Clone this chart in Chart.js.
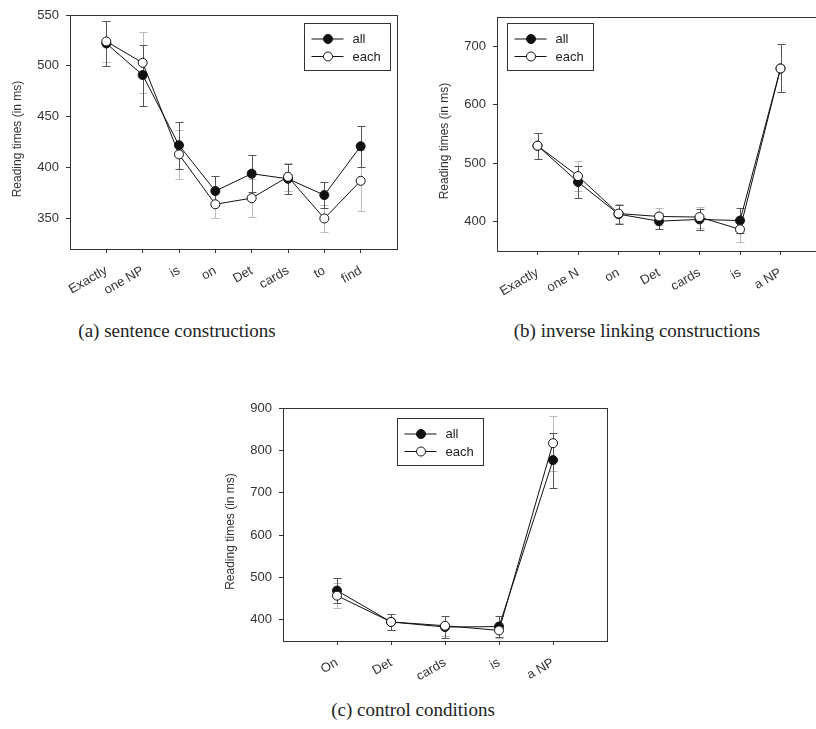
<!DOCTYPE html>
<html><head><meta charset="utf-8">
<script src="https://cdn.jsdelivr.net/npm/chart.js@4.4.0/dist/chart.umd.min.js"></script>
<style>
html,body{margin:0;padding:0;width:816px;height:729px;overflow:hidden;background:#fff;}
.wrap{position:absolute;}
.cap{position:absolute;font-family:'Liberation Serif','Times New Roman',serif;font-size:19px;color:#222;white-space:nowrap;transform:translateX(-50%);line-height:1;}
</style></head><body>
<div class="wrap" style="left:0;top:0"><canvas id="ca" width="420" height="305"></canvas></div>
<div class="wrap" style="left:420px;top:0"><canvas id="cb" width="420" height="305"></canvas></div>
<div class="wrap" style="left:200px;top:380px"><canvas id="cc" width="420" height="310"></canvas></div>
<div class="cap" style="left:177px;top:321px">(a) sentence constructions</div>
<div class="cap" style="left:637px;top:321px">(b) inverse linking constructions</div>
<div class="cap" style="left:413px;top:700px">(c) control conditions</div>
<script>
// ---- data ----
const yTitle = 'Reading times (in ms)';
const seriesNames = ['all', 'each'];

const catsA = ['Exactly', 'one NP', 'is', 'on', 'Det', 'cards', 'to', 'find'];
const allA = [522, 491, 422, 377, 394, 389, 373, 421];
const allErrA = [22, 30, 23, 15, 18, 15, 13, 20];
const eachA = [524, 503, 413, 364, 370, 391, 350, 387];
const eachErrA = [20, 30, 24, 14, 19, 14, 13, 30];
const ticksA = [350, 400, 450, 500, 550];

const catsB = ['Exactly', 'one N', 'on', 'Det', 'cards', 'is', 'a NP'];
const allB = [530, 468, 413, 401, 404, 402, 662];
const allErrB = [22, 27, 16, 14, 18, 21, 41];
const eachB = [530, 478, 414, 409, 408, 387, 662];
const eachErrB = [22, 26, 16, 14, 18, 21, 41];
const ticksB = [400, 500, 600, 700];

const catsC = ['On', 'Det', 'cards', 'is', 'a NP'];
const allC = [469, 395, 383, 384, 777];
const allErrC = [29, 18, 25, 24, 65];
const eachC = [457, 395, 386, 375, 817];
const eachErrC = [29, 18, 24, 18, 65];
const ticksC = [400, 500, 600, 700, 800, 900];

Chart.defaults.font.family = "'Liberation Sans', Arial, sans-serif";
Chart.defaults.color = '#333';

const decor = {
  id: 'decor',
  beforeDatasetsDraw(chart, args, opts) {
    const {ctx, scales: {x, y}} = chart;
    ctx.save();
    ctx.lineWidth = 1;
    opts.errs.forEach(e => {
      ctx.strokeStyle = e.color;
      e.vals.forEach((v, i) => {
        const px = Math.round(x.getPixelForValue(i + 1)) + 0.5;
        const y1 = Math.round(y.getPixelForValue(v + e.errs[i])) + 0.5;
        const y2 = Math.round(y.getPixelForValue(v - e.errs[i])) + 0.5;
        ctx.beginPath();
        ctx.moveTo(px, y1); ctx.lineTo(px, y2);
        ctx.moveTo(px - 4, y1); ctx.lineTo(px + 4, y1);
        ctx.moveTo(px - 4, y2); ctx.lineTo(px + 4, y2);
        ctx.stroke();
      });
    });
    ctx.restore();
  },
  afterDraw(chart, args, opts) {
    const {ctx, chartArea: a} = chart;
    ctx.save();
    ctx.strokeStyle = '#333';
    ctx.lineWidth = 1;
    ctx.strokeRect(Math.round(a.left) + 0.5, Math.round(a.top) + 0.5,
      Math.round(a.right - a.left), Math.round(a.bottom - a.top));
    ctx.fillStyle = '#333';
    ctx.font = "12px 'Liberation Sans', Arial, sans-serif";
    ctx.textAlign = 'center';
    ctx.textBaseline = 'middle';
    ctx.translate(a.left - 52, (a.top + a.bottom) / 2 + 7);
    ctx.rotate(-Math.PI / 2);
    ctx.fillText(yTitle, 0, 0);
    ctx.restore();
    const L = opts.legend;
    const bx = Math.round(a.left + L.dx) + 0.5, by = Math.round(a.top + L.dy) + 0.5;
    ctx.save();
    ctx.strokeStyle = '#333';
    ctx.lineWidth = 1;
    ctx.strokeRect(bx, by, 86, 47);
    ctx.font = "13px 'Liberation Sans', Arial, sans-serif";
    ctx.textBaseline = 'middle';
    ctx.textAlign = 'left';
    const ds = chart.data.datasets;
    [0, 1].forEach(r => {
      const d = ds[r];
      const yy = by + 15.5 + r * 17.5;
      ctx.strokeStyle = '#111';
      ctx.beginPath(); ctx.moveTo(bx + 7, yy); ctx.lineTo(bx + 39, yy); ctx.stroke();
      ctx.beginPath(); ctx.arc(bx + 23.5, yy, 4.5, 0, Math.PI * 2);
      ctx.fillStyle = d.pointBackgroundColor; ctx.fill(); ctx.stroke();
      ctx.fillStyle = '#222';
      ctx.fillText(d.label, bx + 48, yy + 0.5);
    });
    ctx.restore();
  }
};

function build(id, cats, all, allErr, each, eachErr, yMin, yMax, yTicks, lay) {
  const toPts = arr => arr.map((v, i) => ({x: i + 1, y: v}));
  new Chart(document.getElementById(id), {
    type: 'line',
    data: {
      datasets: [
        {label: seriesNames[0], data: toPts(all), borderColor: '#111', borderWidth: 1,
          pointRadius: 4.5, pointBorderWidth: 1, pointBackgroundColor: '#111', pointBorderColor: '#111',
          tension: 0, order: 2},
        {label: seriesNames[1], data: toPts(each), borderColor: '#111', borderWidth: 1,
          pointRadius: 4.5, pointBorderWidth: 1, pointBackgroundColor: '#fff', pointBorderColor: '#111',
          tension: 0, order: 1}
      ]
    },
    options: {
      responsive: false,
      animation: false,
      events: [],
      layout: {padding: {top: lay.padTop, right: lay.padRight, left: 0, bottom: 0}},
      plugins: {
        legend: {display: false},
        tooltip: {enabled: false},
        decor: {
          errs: [
            {vals: each, errs: eachErr, color: '#bdbdbd'},
            {vals: all, errs: allErr, color: '#555'}
          ],
          legend: lay.legend
        }
      },
      scales: {
        x: {
          type: 'linear', min: 0, max: cats.length + 1,
          afterBuildTicks: s => { s.ticks = cats.map((c, i) => ({value: i + 1})); },
          afterFit: s => { s.height = lay.xHeight; },
          ticks: {
            autoSkip: false, minRotation: 30, maxRotation: 30, padding: 10,
            font: {size: 13}, color: '#333',
            callback: v => cats[v - 1]
          },
          grid: {drawOnChartArea: false, tickLength: 4, color: '#333'},
          border: {display: true, color: '#333'}
        },
        y: {
          type: 'linear', min: yMin, max: yMax,
          afterBuildTicks: s => { s.ticks = yTicks.map(v => ({value: v})); },
          afterFit: s => { s.width = lay.yWidth; },
          ticks: {font: {size: 13}, color: '#333', padding: 7},
          grid: {drawOnChartArea: false, tickLength: 4, color: '#333'},
          border: {display: true, color: '#333'}
        }
      }
    },
    plugins: [decor]
  });
}

build('ca', catsA, allA, allErrA, eachA, eachErrA, 320, 550, ticksA,
  {padTop: 15, padRight: 23, yWidth: 70, xHeight: 56, legend: {dx: 234, dy: 8}});
build('cb', catsB, allB, allErrB, eachB, eachErrB, 350, 750, ticksB,
  {padTop: 17, padRight: 19, yWidth: 77, xHeight: 54, legend: {dx: 10, dy: 6}});
build('cc', catsC, allC, allErrC, eachC, eachErrC, 350, 900, ticksC,
  {padTop: 28, padRight: 13, yWidth: 83, xHeight: 49, legend: {dx: 114, dy: 10}});
</script>
</body></html>
